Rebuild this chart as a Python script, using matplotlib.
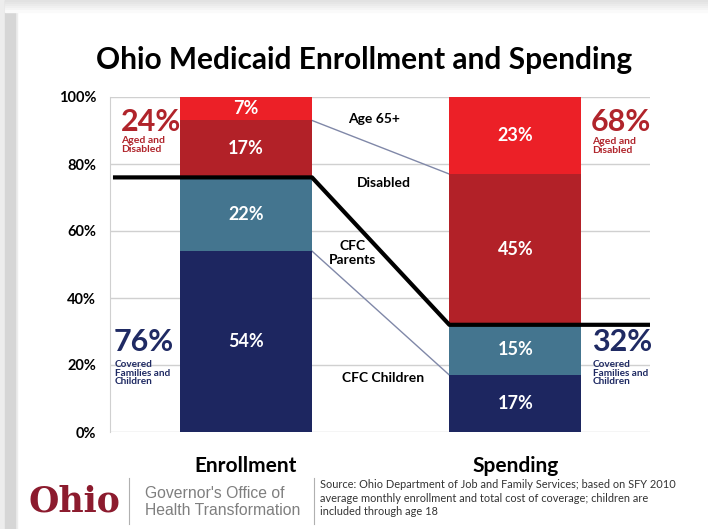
import numpy as np
import matplotlib
matplotlib.use("Agg")
from matplotlib import pyplot as plt
from matplotlib.patches import Rectangle
from matplotlib.lines import Line2D

# data
groups = ["Enrollment", "Spending"]
segments = ["CFC Children", "CFC Parents", "Disabled", "Age 65+"]
enrollment = [54, 22, 17, 7]
spending = [17, 15, 45, 23]
seg_colors = ["#1D2660", "#44758F", "#B22128", "#EC2027"]
yticks = [0, 20, 40, 60, 80, 100]

W, H = 708, 529
plt.rcParams['font.family'] = ['Lato', 'DejaVu Sans']

fig = plt.figure(figsize=(W / 100, H / 100), dpi=100)
fig.patch.set_facecolor("white")

# slide shadow on the left and top
fig.patches.append(Rectangle((0, 0), 17 / W, 1, transform=fig.transFigure, color="#EDEDED", zorder=0))
fig.patches.append(Rectangle((5 / W, 0), 10 / W, 1, transform=fig.transFigure, color="#D6D6D6", zorder=0))
for i, c in enumerate(["#E2E2E2", "#E6E6E6", "#EBEBEB", "#F0F0F0", "#F5F5F5", "#FAFAFA"]):
    fig.patches.append(Rectangle((5 / W, 1 - (2 * i + 2) / H), 1, 2 / H, transform=fig.transFigure, color=c, zorder=0))

def px(x, y):
    return x / W, 1 - y / H

ax = fig.add_axes([110 / W, 1 - 432 / H, 540 / W, 335 / H])
x = np.arange(len(groups))
bw = 0.49
data = np.array([enrollment, spending]).T
bottoms = np.zeros(len(groups))
for k in range(len(segments)):
    ax.bar(x, data[k], bw, bottom=bottoms, color=seg_colors[k], zorder=3)
    for i in range(len(groups)):
        ax.text(x[i], bottoms[i] + data[k][i] / 2, f"{data[k][i]}%", ha="center", va="center",
                color="white", fontsize=13, fontweight="bold", zorder=4)
    bottoms += data[k]

ax.set_xlim(-0.505, 1.5)
ax.set_ylim(0, 100)
ax.set_yticks(yticks)
ax.set_yticklabels([f"{t}%" for t in yticks], fontsize=10.5, fontweight="bold")
ax.set_xticks(x)
ax.set_xticklabels(groups, fontsize=15, fontweight="bold")
ax.tick_params(length=0, pad=10)
ax.tick_params(axis="x", pad=17)
ax.grid(axis="y", color="#D0D0D0", lw=1, zorder=0)
for s in ["top", "right", "bottom"]:
    ax.spines[s].set_visible(False)
ax.spines["left"].set_color("#D0D0D0")

cum_e = np.cumsum(enrollment)
cum_s = np.cumsum(spending)
xr = x[0] + bw / 2
xl = x[1] - bw / 2
# black split line: CFC vs aged/disabled
ax.plot([-0.494, xr, xl, 1.5], [cum_e[1], cum_e[1], cum_s[1], cum_s[1]],
        color="black", lw=3, zorder=5, solid_capstyle="butt")
# thin connectors
ax.plot([xr, xl], [cum_e[2], cum_s[2]], color="#8088A8", lw=1, zorder=2)
ax.plot([xr, xl], [cum_e[0], cum_s[0]], color="#8088A8", lw=1, zorder=2)

# segment names between bars
ax.text(0.474, 93.4, "Age 65+", ha="center", va="center", fontsize=10, fontweight="bold")
ax.text(0.513, 74.3, "Disabled", ha="center", va="center", fontsize=10, fontweight="bold")
ax.text(0.394, 53.5, "CFC\nParents", ha="center", va="center", fontsize=10, fontweight="bold", linespacing=1.15)
ax.text(0.51, 16.1, "CFC Children", ha="center", va="center", fontsize=10, fontweight="bold")

red_t = "#B0242B"
navy_t = "#1F2A63"
# side totals
fig.text(*px(121, 122), f"{cum_e[3] - cum_e[1]}%", color=red_t, fontsize=22, fontweight="bold", va="center", ha="left")
fig.text(*px(121, 145), "Aged and\nDisabled", color=red_t, fontsize=7.5, fontweight="bold", va="center", ha="left", linespacing=0.95)
fig.text(*px(591, 122), f"{cum_s[3] - cum_s[1]}%", color=red_t, fontsize=22, fontweight="bold", va="center", ha="left")
fig.text(*px(592, 146), "Aged and\nDisabled", color=red_t, fontsize=7.5, fontweight="bold", va="center", ha="left", linespacing=0.95)
fig.text(*px(114, 342), f"{cum_e[1]}%", color=navy_t, fontsize=22, fontweight="bold", va="center", ha="left")
fig.text(*px(115, 373), "Covered\nFamilies and\nChildren", color=navy_t, fontsize=7.2, fontweight="bold", va="center", ha="left", linespacing=0.95)
fig.text(*px(592, 342), f"{cum_s[1]}%", color=navy_t, fontsize=22, fontweight="bold", va="center", ha="left")
fig.text(*px(593, 373), "Covered\nFamilies and\nChildren", color=navy_t, fontsize=7.2, fontweight="bold", va="center", ha="left", linespacing=0.95)

fig.text(*px(364, 60), "Ohio Medicaid Enrollment and Spending", ha="center", va="center",
         fontsize=21.5, fontweight="bold")

# footer
fig.text(*px(29, 502), "Ohio", fontsize=25, fontweight="bold", color="#8C1B2E", ha="left", va="center",
         family="DejaVu Serif")
fig.lines.append(Line2D([129 / W, 129 / W], [1 - 478 / H, 1 - 524 / H], transform=fig.transFigure, color="#B0B0B0", lw=0.8))
fig.lines.append(Line2D([314 / W, 314 / W], [1 - 478 / H, 1 - 524 / H], transform=fig.transFigure, color="#B0B0B0", lw=0.8))
fig.text(*px(145, 502), "Governor's Office of\nHealth Transformation", fontsize=11.3, color="#7F7F7F",
         ha="left", va="center", family="Liberation Sans", linespacing=1.1)
fig.text(*px(320, 498), "Source: Ohio Department of Job and Family Services; based on SFY 2010\n"
         "average monthly enrollment and total cost of coverage; children are\n"
         "included through age 18", fontsize=7.9, color="#333333", ha="left", va="center", linespacing=1.3)

fig.savefig("out.png", dpi=100)
